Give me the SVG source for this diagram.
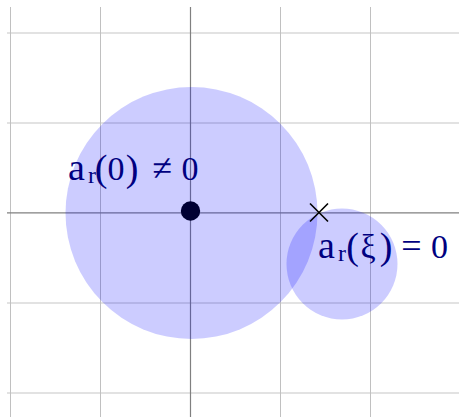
<svg xmlns="http://www.w3.org/2000/svg" width="459" height="417" viewBox="0 0 459 417">
  <style>
    .gv { stroke: #c0c0c0; stroke-width: 1; }
    .gh { stroke: #d8d8d8; stroke-width: 1.5; }
    .axis { stroke: #808080; stroke-width: 1.2; }
    .disk { fill: #0000ff; fill-opacity: 0.2; stroke: none; }
    .lbl { font-family: "Liberation Serif", "Times New Roman", serif; fill: #000080; text-anchor: middle; }
    .par { font-size: 38px; }
  </style>
  <rect width="459" height="417" fill="#ffffff"/>
  <g id="grid">
    <line class="gh" x1="7" y1="33" x2="459" y2="33"/>
    <line class="gh" x1="7" y1="123" x2="459" y2="123"/>
    <line class="gh" x1="7" y1="303" x2="459" y2="303"/>
    <line class="gh" x1="7" y1="393" x2="459" y2="393"/>
    <line class="gv" x1="10.5" y1="7" x2="10.5" y2="417"/>
    <line class="gv" x1="100.5" y1="7" x2="100.5" y2="417"/>
    <line class="gv" x1="280.5" y1="7" x2="280.5" y2="417"/>
    <line class="gv" x1="370.5" y1="7" x2="370.5" y2="417"/>
  </g>
  <g id="axes">
    <line class="axis" x1="7" y1="212.8" x2="459" y2="212.8"/>
    <line class="axis" x1="190.5" y1="7" x2="190.5" y2="417"/>
  </g>
  <g id="disk-big">
    <circle class="disk" cx="191.5" cy="213" r="126"/>
  </g>
  <g id="disk-small">
    <circle class="disk" cx="342" cy="264" r="55.5"/>
  </g>
  <g id="origin">
    <circle cx="190.5" cy="211" r="9.7" fill="#000033"/>
  </g>
  <g id="zero">
    <path d="M310,203.5 L328,221.5 M328,203.5 L310,221.5" stroke="#000000" stroke-width="1.6" fill="none"/>
  </g>
  <g id="label-origin">
    <text class="lbl" font-size="34" y="180"><tspan x="76.5" font-size="38">a</tspan><tspan x="92" y="183" font-size="24">r</tspan><tspan class="par" x="101" y="181">(</tspan><tspan x="116" y="180">0</tspan><tspan class="par" x="132" y="181">)</tspan><tspan x="162.5" y="180" font-size="36">≠</tspan><tspan x="190">0</tspan></text>
  </g>
  <g id="label-zero">
    <text class="lbl" font-size="34" y="258"><tspan x="326.5" font-size="38">a</tspan><tspan x="342" y="261" font-size="24">r</tspan><tspan class="par" x="352.5" y="259">(</tspan><tspan x="368" y="258">ξ</tspan><tspan class="par" x="386" y="259">)</tspan><tspan x="411.5" y="258" font-size="36">=</tspan><tspan x="439.5">0</tspan></text>
  </g>
</svg>
